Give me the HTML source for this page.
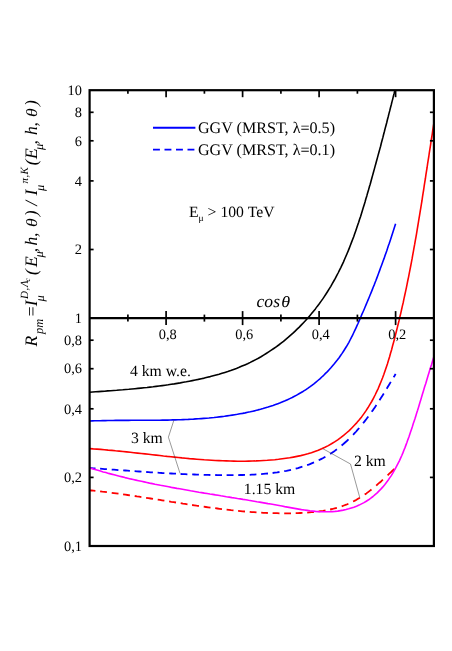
<!DOCTYPE html>
<html><head><meta charset="utf-8"><title>plot</title>
<style>html,body{margin:0;padding:0;background:#fff;}body{width:452px;height:651px;overflow:hidden;font-family:"Liberation Serif",serif;}svg{display:block;will-change:transform;}text{text-rendering:geometricPrecision;}</style></head>
<body>
<svg width="452" height="651" viewBox="0 0 452 651">
<rect width="452" height="651" fill="#fff"/>
<defs><clipPath id="cp"><rect x="89.6" y="90.2" width="344.3" height="455.8"/></clipPath></defs>
<g fill="none" stroke-width="1.6" stroke-linejoin="round" clip-path="url(#cp)">
<path d="M89.6,392.2 L92.6,392.0 L95.6,391.8 L98.6,391.6 L101.6,391.4 L104.6,391.2 L107.6,390.9 L110.7,390.7 L113.7,390.5 L116.7,390.3 L119.7,390.0 L122.8,389.8 L125.8,389.5 L128.8,389.3 L131.8,389.0 L134.9,388.7 L137.9,388.4 L140.9,388.1 L144.0,387.8 L147.0,387.5 L150.0,387.1 L153.1,386.8 L156.1,386.4 L159.1,386.0 L162.2,385.6 L165.2,385.2 L168.2,384.8 L171.2,384.3 L174.3,383.9 L177.3,383.4 L180.3,382.9 L183.3,382.3 L186.3,381.8 L189.3,381.2 L192.3,380.6 L195.3,380.0 L198.3,379.4 L201.3,378.7 L204.3,378.1 L207.3,377.3 L210.3,376.6 L213.2,375.8 L216.2,375.0 L219.1,374.2 L222.0,373.3 L224.9,372.4 L227.8,371.5 L230.7,370.5 L233.6,369.4 L236.4,368.4 L239.2,367.3 L242.0,366.1 L244.8,364.9 L247.6,363.7 L250.3,362.4 L253.0,361.0 L255.7,359.6 L258.4,358.2 L261.0,356.7 L263.6,355.1 L266.2,353.5 L268.7,351.9 L271.3,350.2 L273.8,348.5 L276.2,346.8 L278.7,345.0 L281.1,343.1 L283.5,341.3 L285.8,339.3 L288.1,337.4 L290.4,335.4 L292.7,333.4 L294.9,331.3 L297.1,329.2 L299.3,327.1 L301.4,324.9 L303.5,322.7 L305.6,320.5 L307.6,318.2 L309.6,315.9 L311.6,313.6 L313.5,311.2 L315.4,308.9 L317.2,306.4 L319.1,304.0 L320.8,301.6 L322.6,299.1 L324.3,296.6 L326.0,294.0 L327.6,291.5 L329.2,288.9 L330.8,286.3 L332.3,283.7 L333.8,281.0 L335.3,278.4 L336.7,275.7 L338.1,273.0 L339.4,270.3 L340.8,267.6 L342.1,264.8 L343.4,262.1 L344.6,259.3 L345.8,256.5 L347.0,253.7 L348.2,250.9 L349.3,248.1 L350.4,245.2 L351.5,242.4 L352.6,239.5 L353.7,236.7 L354.7,233.8 L355.7,230.9 L356.7,228.0 L357.7,225.1 L358.7,222.2 L359.6,219.3 L360.6,216.4 L361.5,213.5 L362.4,210.5 L363.3,207.6 L364.2,204.7 L365.1,201.8 L365.9,198.8 L366.8,195.9 L367.6,193.0 L368.5,190.0 L369.3,187.1 L370.2,184.2 L371.0,181.2 L371.8,178.3 L372.6,175.4 L373.4,172.5 L374.2,169.6 L375.0,166.6 L375.8,163.7 L376.6,160.8 L377.4,157.9 L378.2,154.9 L379.0,152.0 L379.8,149.1 L380.6,146.2 L381.3,143.2 L382.1,140.3 L382.9,137.4 L383.6,134.5 L384.4,131.5 L385.1,128.6 L385.9,125.7 L386.7,122.7 L387.4,119.8 L388.2,116.8 L388.9,113.9 L389.7,110.9 L390.4,108.0 L391.2,105.0 L391.9,102.1 L392.7,99.1 L393.4,96.1 L394.2,93.2 L394.9,90.2" stroke="#000000"/>
<path d="M89.6,421.0 L92.2,420.9 L94.8,420.8 L97.5,420.8 L100.1,420.7 L102.7,420.6 L105.3,420.6 L107.9,420.5 L110.5,420.5 L113.1,420.5 L115.7,420.4 L118.3,420.4 L120.9,420.4 L123.5,420.4 L126.1,420.4 L128.7,420.4 L131.3,420.3 L133.9,420.3 L136.5,420.3 L139.1,420.3 L141.7,420.3 L144.3,420.3 L146.9,420.3 L149.5,420.3 L152.1,420.3 L154.7,420.2 L157.3,420.2 L159.9,420.2 L162.4,420.1 L165.0,420.1 L167.6,420.1 L170.2,420.0 L172.8,419.9 L175.4,419.9 L178.0,419.8 L180.5,419.7 L183.1,419.6 L185.7,419.5 L188.3,419.4 L190.9,419.2 L193.5,419.1 L196.0,418.9 L198.6,418.8 L201.2,418.6 L203.8,418.4 L206.4,418.2 L209.0,418.0 L211.6,417.7 L214.1,417.5 L216.7,417.2 L219.3,416.9 L221.9,416.6 L224.5,416.3 L227.1,415.9 L229.7,415.5 L232.2,415.1 L234.8,414.7 L237.4,414.3 L240.0,413.8 L242.6,413.4 L245.2,412.9 L247.7,412.3 L250.3,411.8 L252.9,411.2 L255.4,410.6 L258.0,409.9 L260.5,409.3 L263.0,408.6 L265.6,407.8 L268.1,407.1 L270.5,406.3 L273.0,405.5 L275.5,404.6 L277.9,403.7 L280.3,402.8 L282.7,401.8 L285.1,400.8 L287.5,399.7 L289.8,398.6 L292.2,397.5 L294.5,396.3 L296.7,395.1 L299.0,393.8 L301.2,392.5 L303.4,391.2 L305.6,389.8 L307.7,388.4 L309.8,386.9 L311.9,385.3 L313.9,383.8 L316.0,382.1 L317.9,380.5 L319.9,378.8 L321.8,377.0 L323.7,375.3 L325.5,373.4 L327.4,371.6 L329.1,369.7 L330.9,367.8 L332.6,365.8 L334.3,363.8 L335.9,361.8 L337.5,359.8 L339.1,357.7 L340.6,355.5 L342.1,353.4 L343.5,351.2 L344.9,349.0 L346.3,346.8 L347.6,344.6 L348.9,342.3 L350.1,340.0 L351.3,337.7 L352.5,335.3 L353.6,333.0 L354.7,330.6 L355.8,328.3 L356.9,325.9 L358.0,323.5 L359.0,321.1 L360.1,318.7 L361.1,316.3 L362.1,313.9 L363.2,311.5 L364.2,309.2 L365.2,306.8 L366.2,304.4 L367.2,302.0 L368.2,299.6 L369.2,297.2 L370.2,294.8 L371.2,292.4 L372.2,289.9 L373.1,287.5 L374.1,285.1 L375.0,282.7 L376.0,280.3 L376.9,277.9 L377.8,275.4 L378.7,273.0 L379.6,270.6 L380.5,268.1 L381.4,265.7 L382.3,263.3 L383.2,260.8 L384.1,258.4 L384.9,255.9 L385.8,253.5 L386.7,251.0 L387.5,248.6 L388.3,246.1 L389.2,243.6 L390.0,241.2 L390.8,238.7 L391.6,236.2 L392.4,233.7 L393.2,231.3 L394.0,228.8 L394.8,226.3 L395.6,223.8" stroke="#0000ff"/>
<path d="M89.6,468.0 L91.5,468.1 L93.5,468.3 L95.5,468.4 M100.1,468.7 L102.4,468.9 L104.6,469.1 L106.9,469.2 M111.7,469.6 L113.9,469.7 L116.1,469.9 L118.4,470.1 M123.2,470.4 L125.4,470.5 L127.6,470.7 L129.9,470.9 M134.6,471.2 L136.8,471.4 L139.2,471.5 L141.5,471.7 M146.2,472.0 L148.4,472.1 L150.6,472.3 L152.9,472.4 M157.6,472.7 L159.8,472.8 L162.1,473.0 L164.4,473.1 M169.2,473.4 L171.4,473.5 L173.7,473.6 L176.0,473.7 M180.6,474.0 L182.8,474.1 L185.1,474.2 L187.4,474.3 M192.2,474.4 L194.4,474.5 L196.6,474.6 L198.9,474.7 M203.7,474.8 L205.9,474.9 L208.1,474.9 L210.4,475.0 M215.2,475.0 L217.4,475.1 L219.6,475.1 L222.0,475.1 M226.6,475.1 L228.9,475.1 L231.1,475.1 L233.5,475.1 M238.2,475.1 L240.4,475.0 L242.6,475.0 L245.0,474.9 M249.7,474.8 L251.9,474.7 L254.2,474.6 L256.4,474.4 M261.1,474.1 L263.3,473.9 L265.7,473.7 L268.0,473.5 M272.6,473.0 L274.8,472.7 L277.2,472.4 L279.5,472.0 M284.2,471.2 L286.4,470.8 L288.7,470.3 L291.0,469.8 M295.7,468.7 L297.9,468.1 L300.1,467.4 L302.4,466.7 M307.1,465.1 L309.4,464.3 L311.6,463.4 L314.0,462.4 M318.7,460.3 L321.0,459.1 L323.2,458.0 L325.4,456.7 M330.2,453.9 L332.4,452.4 L334.7,450.9 L336.9,449.2 M341.6,445.5 L343.4,444.0 L345.1,442.5 L346.8,441.0 L348.5,439.4 M353.1,434.8 L354.6,433.2 L356.2,431.5 L357.7,429.7 L359.2,428.0 M363.1,423.3 L364.8,421.1 L366.6,418.8 L368.3,416.5 M371.7,411.8 L373.3,409.6 L374.8,407.4 L376.4,405.0 M379.5,400.3 L380.9,398.0 L382.4,395.7 L383.8,393.5 M386.7,388.8 L388.0,386.5 L389.4,384.2 L390.8,381.9 M393.6,377.3 L394.6,375.7 L395.6,373.9" stroke="#0000ff" stroke-width="1.8"/>
<path d="M89.6,490.3 L91.5,490.5 L93.4,490.7 L95.4,490.9 M100.1,491.4 L102.3,491.7 L104.6,491.9 L106.9,492.2 M111.7,492.8 L113.9,493.1 L116.1,493.4 L118.5,493.7 M123.1,494.4 L125.3,494.7 L127.6,495.0 L129.9,495.3 M134.7,496.0 L136.9,496.4 L139.1,496.7 L141.4,497.1 M146.1,497.8 L148.3,498.1 L150.7,498.5 L153.0,498.9 M157.7,499.6 L159.9,499.9 L162.1,500.3 L164.4,500.7 M169.1,501.4 L171.3,501.8 L173.7,502.1 L176.0,502.5 M180.7,503.2 L182.9,503.6 L185.1,503.9 L187.5,504.3 M192.1,505.0 L194.3,505.3 L196.6,505.7 L198.9,506.0 M203.7,506.7 L205.9,507.0 L208.2,507.3 L210.5,507.6 M215.2,508.2 L217.4,508.5 L219.6,508.8 L222.0,509.1 M226.6,509.7 L228.9,509.9 L231.1,510.2 L233.5,510.4 M238.1,510.9 L240.4,511.1 L242.6,511.3 L245.0,511.5 M249.7,511.9 L251.9,512.1 L254.1,512.2 L256.5,512.4 M261.2,512.7 L263.4,512.8 L265.7,512.9 L267.9,513.0 M272.6,513.1 L274.9,513.2 L277.1,513.2 L279.5,513.3 M284.2,513.3 L286.5,513.3 L288.7,513.3 L291.0,513.3 M295.7,513.1 L297.9,513.1 L300.2,513.0 L302.5,512.9 M307.2,512.6 L309.4,512.4 L311.7,512.2 L313.9,512.0 M318.6,511.4 L320.8,511.1 L323.1,510.8 L325.5,510.4 M330.1,509.5 L332.4,509.0 L334.7,508.4 L336.9,507.8 M341.7,506.3 L343.9,505.5 L346.2,504.7 L348.4,503.7 M353.1,501.5 L355.4,500.4 L357.6,499.1 L359.9,497.7 M364.7,494.6 L366.4,493.4 L368.1,492.1 L369.7,490.9 L371.5,489.5 M376.2,485.7 L377.8,484.2 L379.5,482.7 L381.3,481.2 L382.9,479.7 M387.6,475.3 L389.3,473.7 L391.0,472.1 L392.7,470.5 L394.5,468.8" stroke="#ff0000" stroke-width="1.8"/>
<path d="M89.6,448.6 L93.3,448.9 L97.0,449.1 L100.7,449.4 L104.4,449.7 L108.1,450.1 L111.8,450.4 L115.5,450.8 L119.2,451.1 L122.9,451.5 L126.6,451.9 L130.3,452.3 L133.9,452.7 L137.6,453.1 L141.3,453.5 L145.0,453.9 L148.7,454.3 L152.4,454.7 L156.1,455.1 L159.8,455.5 L163.5,456.0 L167.2,456.4 L170.9,456.7 L174.6,457.1 L178.3,457.5 L182.0,457.9 L185.7,458.2 L189.4,458.6 L193.1,458.9 L196.8,459.2 L200.5,459.5 L204.2,459.8 L207.9,460.0 L211.6,460.2 L215.3,460.5 L219.0,460.6 L222.7,460.8 L226.4,460.9 L230.1,461.0 L233.8,461.1 L237.5,461.2 L241.3,461.2 L245.0,461.2 L248.7,461.1 L252.4,461.0 L256.1,460.9 L259.9,460.7 L263.6,460.5 L267.3,460.3 L271.1,460.0 L274.8,459.7 L278.5,459.3 L282.3,458.8 L286.0,458.3 L289.7,457.8 L293.4,457.1 L297.0,456.4 L300.7,455.6 L304.3,454.7 L307.8,453.8 L311.4,452.7 L314.8,451.5 L318.3,450.2 L321.7,448.8 L325.0,447.3 L328.3,445.6 L331.5,443.8 L334.6,441.9 L337.7,439.9 L340.7,437.7 L343.6,435.4 L346.4,433.0 L349.2,430.6 L351.8,428.0 L354.4,425.3 L356.9,422.6 L359.3,419.8 L361.6,416.9 L363.8,413.9 L365.9,410.9 L367.9,407.8 L369.8,404.7 L371.7,401.5 L373.4,398.3 L375.1,395.0 L376.7,391.7 L378.3,388.3 L379.7,384.9 L381.1,381.5 L382.5,378.0 L383.8,374.5 L385.0,371.0 L386.2,367.4 L387.4,363.9 L388.5,360.3 L389.6,356.7 L390.6,353.0 L391.7,349.4 L392.6,345.8 L393.6,342.2 L394.6,338.5 L395.5,334.9 L396.4,331.3 L397.3,327.6 L398.2,324.0 L399.1,320.4 L399.9,316.7 L400.8,313.1 L401.6,309.5 L402.4,305.9 L403.3,302.2 L404.0,298.6 L404.8,295.0 L405.6,291.4 L406.4,287.7 L407.1,284.1 L407.8,280.5 L408.6,276.8 L409.3,273.2 L410.0,269.6 L410.7,266.0 L411.4,262.3 L412.1,258.7 L412.7,255.1 L413.4,251.4 L414.0,247.8 L414.7,244.2 L415.3,240.6 L416.0,236.9 L416.6,233.3 L417.2,229.6 L417.8,226.0 L418.4,222.4 L419.0,218.7 L419.6,215.1 L420.2,211.4 L420.8,207.8 L421.4,204.1 L422.0,200.5 L422.5,196.8 L423.1,193.2 L423.7,189.5 L424.2,185.9 L424.8,182.2 L425.4,178.5 L425.9,174.9 L426.5,171.2 L427.1,167.5 L427.6,163.9 L428.2,160.2 L428.8,156.5 L429.3,152.8 L429.9,149.1 L430.5,145.4 L431.0,141.7 L431.6,138.0 L432.2,134.3 L432.7,130.6 L433.3,126.9 L433.9,123.2" stroke="#ff0000"/>
<path d="M89.6,467.9 L92.3,468.7 L95.0,469.5 L97.8,470.3 L100.5,471.1 L103.2,471.9 L105.9,472.6 L108.6,473.4 L111.4,474.1 L114.1,474.8 L116.8,475.5 L119.5,476.2 L122.3,476.9 L125.0,477.6 L127.7,478.2 L130.4,478.9 L133.2,479.5 L135.9,480.1 L138.6,480.7 L141.4,481.3 L144.1,481.9 L146.8,482.5 L149.5,483.1 L152.3,483.6 L155.0,484.2 L157.7,484.7 L160.5,485.3 L163.2,485.8 L166.0,486.3 L168.7,486.8 L171.4,487.4 L174.2,487.9 L176.9,488.4 L179.7,488.8 L182.4,489.3 L185.1,489.8 L187.9,490.3 L190.6,490.8 L193.4,491.2 L196.1,491.7 L198.9,492.2 L201.6,492.6 L204.4,493.1 L207.1,493.5 L209.9,494.0 L212.6,494.4 L215.4,494.9 L218.1,495.3 L220.9,495.8 L223.7,496.2 L226.4,496.7 L229.2,497.1 L231.9,497.6 L234.7,498.0 L237.5,498.5 L240.2,498.9 L243.0,499.4 L245.8,499.8 L248.6,500.3 L251.3,500.7 L254.1,501.2 L256.9,501.7 L259.7,502.1 L262.4,502.6 L265.2,503.1 L268.0,503.6 L270.8,504.0 L273.6,504.5 L276.3,505.0 L279.1,505.5 L281.9,506.0 L284.7,506.6 L287.5,507.1 L290.3,507.6 L293.1,508.1 L295.9,508.6 L298.7,509.1 L301.5,509.6 L304.3,510.0 L307.1,510.4 L309.9,510.8 L312.7,511.1 L315.5,511.4 L318.3,511.6 L321.1,511.7 L323.8,511.8 L326.6,511.8 L329.4,511.8 L332.2,511.6 L335.0,511.4 L337.8,511.1 L340.5,510.6 L343.3,510.1 L346.0,509.5 L348.7,508.8 L351.3,508.0 L353.9,507.2 L356.5,506.2 L359.1,505.1 L361.5,503.9 L364.0,502.6 L366.3,501.2 L368.6,499.8 L370.8,498.2 L373.0,496.5 L375.1,494.7 L377.2,492.9 L379.1,490.9 L381.1,488.9 L382.9,486.9 L384.7,484.7 L386.4,482.5 L388.1,480.2 L389.7,477.9 L391.3,475.6 L392.8,473.2 L394.2,470.7 L395.6,468.2 L396.9,465.7 L398.2,463.2 L399.5,460.6 L400.6,458.1 L401.8,455.5 L402.9,452.9 L403.9,450.2 L405.0,447.6 L406.0,444.9 L407.0,442.3 L407.9,439.6 L408.9,437.0 L409.8,434.3 L410.7,431.6 L411.6,429.0 L412.5,426.3 L413.3,423.6 L414.2,421.0 L415.1,418.3 L415.9,415.7 L416.7,413.0 L417.6,410.3 L418.4,407.7 L419.2,405.0 L420.0,402.3 L420.8,399.7 L421.6,397.0 L422.4,394.3 L423.2,391.7 L424.0,389.0 L424.8,386.3 L425.7,383.7 L426.5,381.0 L427.3,378.3 L428.1,375.6 L428.9,372.9 L429.7,370.3 L430.5,367.6 L431.4,364.9 L432.2,362.2 L433.0,359.5 L433.9,356.8" stroke="#ff00ff"/>
</g>
<g fill="none" stroke="#444" stroke-width="0.55">
<polyline points="173.9,420.2 168.4,437.2 180.0,473.3"/>
<polyline points="322.7,448.6 350.5,464 359.8,497.7"/>
</g>
<g stroke="#000" stroke-width="2.2" fill="none" stroke-linecap="butt">
<rect x="89.6" y="90.2" width="344.29999999999995" height="455.8"/>
<line x1="89.6" y1="318.1" x2="433.9" y2="318.1"/>
</g>
<g stroke="#000" stroke-width="1.7" fill="none">
<line x1="127.9" y1="314.6" x2="127.9" y2="321.6"/>
<line x1="127.9" y1="90.2" x2="127.9" y2="93.7"/>
<line x1="166.1" y1="311.1" x2="166.1" y2="325.1"/>
<line x1="166.1" y1="90.2" x2="166.1" y2="97.2"/>
<line x1="204.4" y1="314.6" x2="204.4" y2="321.6"/>
<line x1="204.4" y1="90.2" x2="204.4" y2="93.7"/>
<line x1="242.6" y1="311.1" x2="242.6" y2="325.1"/>
<line x1="242.6" y1="90.2" x2="242.6" y2="97.2"/>
<line x1="280.9" y1="314.6" x2="280.9" y2="321.6"/>
<line x1="280.9" y1="90.2" x2="280.9" y2="93.7"/>
<line x1="319.1" y1="311.1" x2="319.1" y2="325.1"/>
<line x1="319.1" y1="90.2" x2="319.1" y2="97.2"/>
<line x1="357.4" y1="314.6" x2="357.4" y2="321.6"/>
<line x1="357.4" y1="90.2" x2="357.4" y2="93.7"/>
<line x1="395.6" y1="311.1" x2="395.6" y2="325.1"/>
<line x1="395.6" y1="90.2" x2="395.6" y2="97.2"/>
<line x1="89.6" y1="112.3" x2="93.6" y2="112.3"/>
<line x1="433.9" y1="112.3" x2="429.9" y2="112.3"/>
<line x1="89.6" y1="140.8" x2="93.6" y2="140.8"/>
<line x1="433.9" y1="140.8" x2="429.9" y2="140.8"/>
<line x1="89.6" y1="180.9" x2="93.6" y2="180.9"/>
<line x1="433.9" y1="180.9" x2="429.9" y2="180.9"/>
<line x1="89.6" y1="249.5" x2="93.6" y2="249.5"/>
<line x1="433.9" y1="249.5" x2="429.9" y2="249.5"/>
<line x1="89.6" y1="340.2" x2="93.6" y2="340.2"/>
<line x1="433.9" y1="340.2" x2="429.9" y2="340.2"/>
<line x1="89.6" y1="368.7" x2="93.6" y2="368.7"/>
<line x1="433.9" y1="368.7" x2="429.9" y2="368.7"/>
<line x1="89.6" y1="408.8" x2="93.6" y2="408.8"/>
<line x1="433.9" y1="408.8" x2="429.9" y2="408.8"/>
<line x1="89.6" y1="477.4" x2="93.6" y2="477.4"/>
<line x1="433.9" y1="477.4" x2="429.9" y2="477.4"/>
</g>
<g font-family="Liberation Serif, serif" font-size="14.4" fill="#000">
<text x="82" y="94.9" text-anchor="end">10</text>
<text x="82" y="117.0" text-anchor="end">8</text>
<text x="82" y="145.5" text-anchor="end">6</text>
<text x="82" y="185.6" text-anchor="end">4</text>
<text x="82" y="254.2" text-anchor="end">2</text>
<text x="82" y="322.8" text-anchor="end">1</text>
<text x="82" y="344.9" text-anchor="end">0,8</text>
<text x="82" y="373.4" text-anchor="end">0,6</text>
<text x="82" y="413.5" text-anchor="end">0,4</text>
<text x="82" y="482.1" text-anchor="end">0,2</text>
<text x="82" y="550.7" text-anchor="end">0,1</text>
<text x="167.8" y="339.3" text-anchor="middle">0,8</text>
<text x="244.3" y="339.3" text-anchor="middle">0,6</text>
<text x="320.8" y="339.3" text-anchor="middle">0,4</text>
<text x="397.3" y="339.3" text-anchor="middle">0,2</text>
</g>
<g font-family="Liberation Serif, serif" font-size="15.7" fill="#000">
<text x="130" y="375.7">4 km w.e.</text>
<text x="131" y="442.8">3 km</text>
<text x="354" y="465.7">2 km</text>
<text x="243.8" y="494.4">1.15 km</text>
<text x="198" y="133.3" font-size="16.1">GGV (MRST, λ=0.5)</text>
<text x="198" y="155.1" font-size="16.1">GGV (MRST, λ=0.1)</text>
<text x="189" y="216.5">E<tspan font-size="9.5" dy="4">μ</tspan><tspan dy="-4"> &gt; 100 TeV</tspan></text>
</g>
<line x1="153" y1="127.7" x2="195.4" y2="127.7" stroke="#0000ff" stroke-width="1.9"/>
<line x1="153" y1="149.6" x2="195.4" y2="149.6" stroke="#0000ff" stroke-width="1.9" stroke-dasharray="6.9 4.6"/>
<g font-family="Liberation Serif, serif" font-style="italic" fill="#000"><text x="256.5" y="307.3" font-size="17.5" letter-spacing="0.1">cos</text><text transform="translate(281.3,307.3) scale(1.16,1)" font-size="15.6">θ</text></g>
<g transform="translate(37.0,346.5) rotate(-90)" font-family="Liberation Serif, serif" font-style="italic" fill="#000">
<text x="0" y="0" font-size="17.5">R</text>
<text x="12.4" y="5.5" font-size="12.5">pm</text>
<text x="29" y="0" font-size="17.5">=</text>
<text x="40.3" y="0" font-size="17.5">I</text>
<text x="45" y="6.8" font-size="12.5">μ</text>
<text x="47.5" y="-9" font-size="11" letter-spacing="0.6">D,Λ</text>
<text x="65" y="-7" font-size="7.5">c</text>
<text x="71.5" y="0" font-size="17.5">(</text>
<text x="79.5" y="0" font-size="17.5">E</text>
<text x="89" y="6" font-size="12.5">μ</text>
<text x="94.2" y="0" font-size="17.5">,</text>
<text x="101" y="0" font-size="17.5">h</text>
<text x="109.5" y="0" font-size="17.5">,</text>
<text transform="translate(119.6,0) scale(1.14,1)" font-size="15.6">θ</text>
<text x="130.2" y="0" font-size="17.5">)</text>
<text x="140.7" y="0" font-size="17.5">/</text>
<text x="151" y="0" font-size="17.5">I</text>
<text x="155.6" y="6.8" font-size="12.5">μ</text>
<text x="163" y="-9" font-size="11" letter-spacing="0.4">π,K</text>
<text x="181.2" y="0" font-size="17.5">(</text>
<text x="187.5" y="0" font-size="17.5">E</text>
<text x="196.5" y="6" font-size="12.5">μ</text>
<text x="202" y="0" font-size="17.5">,</text>
<text x="211.5" y="0" font-size="17.5">h</text>
<text x="220" y="0" font-size="17.5">,</text>
<text transform="translate(229.5,0) scale(1.14,1)" font-size="15.6">θ</text>
<text x="240.5" y="0" font-size="17.5">)</text>
</g>
</svg>
</body></html>
